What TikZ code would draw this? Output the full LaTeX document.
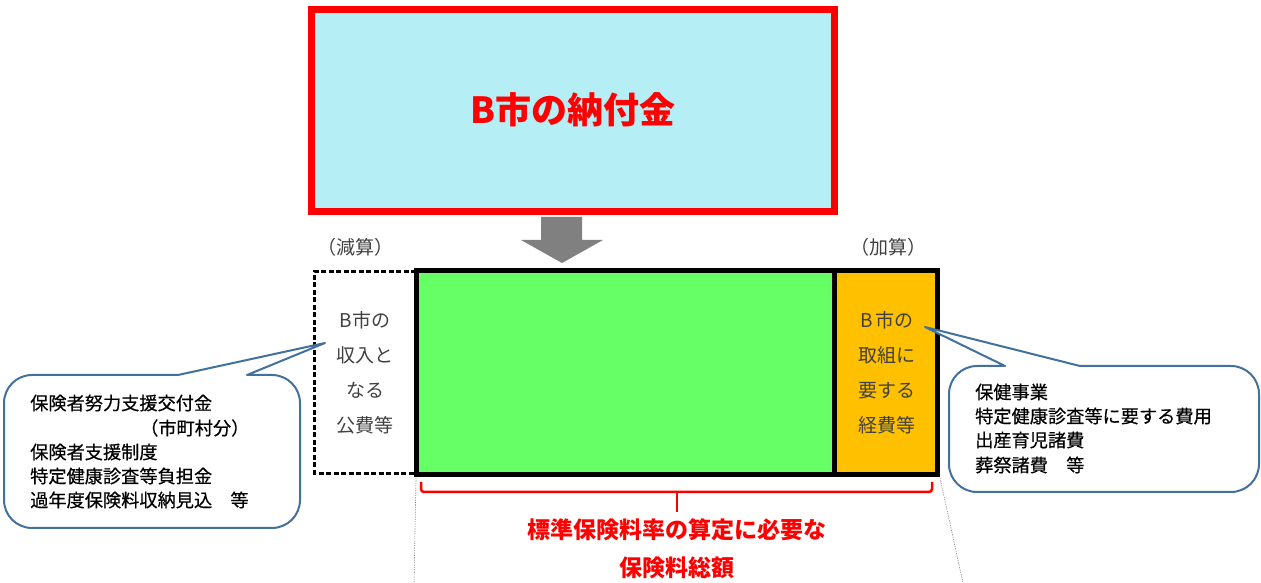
\documentclass[tikz,border=0pt]{standalone}
\usepackage{fontspec}
\setmainfont{Noto Sans CJK JP}
\newfontfamily\callfont[FakeBold=0.4]{Noto Sans CJK JP}
\definecolor{topfill}{HTML}{B6EEF6}
\definecolor{greenfill}{HTML}{66FF66}
\definecolor{orangefill}{HTML}{FFC000}
\definecolor{callblue}{HTML}{41719C}
\definecolor{labgray}{HTML}{404040}
\definecolor{arrowgray}{HTML}{808080}
\definecolor{dotgray}{HTML}{808080}
\begin{document}
\begin{tikzpicture}[x=1pt,y=1pt,
  calloutline/.style={draw=callblue,line width=2pt,fill=white,line join=round},
  boxlabel/.style={text=labgray,font=\fontsize{19}{35}\selectfont,align=center,inner sep=0pt},
  calltext/.style={text=black,font=\callfont\fontsize{18.2}{24}\selectfont,anchor=west,inner sep=0pt},
  redtext/.style={text=red,font=\bfseries\fontsize{23}{38}\selectfont,inner sep=0pt},
  guideline/.style={draw=dotgray,line width=0.6pt,dash pattern=on 1.2pt off 1.2pt}]
\useasboundingbox (0,0) rectangle (1261,583);
% top box
\node (top) [draw=red,line width=7pt,fill=topfill,minimum width=523pt,minimum height=202pt,inner sep=0pt] at (573,472.5) {};
\node (toptext) [text=red,font=\bfseries\fontsize{36}{40}\selectfont] at (573,473) {B市の納付金};
% arrow
\fill[arrowgray] (541,366) -- (582,366) -- (582,343) -- (603,343) -- (562,320) -- (521,343) -- (541,343) -- cycle;
% labels
\node (minus) [text=labgray,font=\fontsize{19}{22}\selectfont] at (355,336) {（減算）};
\node (plus) [text=labgray,font=\fontsize{19}{22}\selectfont] at (888,336) {（加算）};
% dotted guide lines
\coordinate (gl1) at (416,105);
\coordinate (gl2) at (414,0);
\coordinate (gr1) at (940,105);
\coordinate (gr2) at (963,0);
\draw[guideline] (gl1) -- (gl2);
\draw[guideline] (gr1) -- (gr2);
% boxes
\fill[greenfill] (416.5,312.5) rectangle (834,108.5);
\fill[orangefill] (834,312.5) rectangle (937.5,108.5);
\draw[line width=2.5pt,dash pattern=on 5pt off 2.5pt] (416,311.5) -- (314.5,311.5) -- (314.5,109.5) -- (416,109.5);
\draw[line width=5pt] (416.5,312.5) rectangle (937.5,108.5);
\draw[line width=5pt] (834,312.5) -- (834,108.5);
\node (lefttext) [boxlabel] at (365,210.5) {B市の\\収入と\\なる\\公費等};
\node (righttext) [boxlabel] at (887,210.5) {B\,市の\\取組に\\要する\\経費等};
% left callout
\draw[calloutline] (178,208) -- (325,240) -- (247,208) -- (272,208) arc (90:0:28) -- (300,83) arc (0:-90:28) -- (32,55) arc (270:180:28) -- (4,180) arc (180:90:28) -- cycle;
\node (l1) [calltext] at (30,180) {保険者努力支援交付金};
\node (l2) [calltext] at (140,155) {（市町村分）};
\node (l3) [calltext] at (30,131) {保険者支援制度};
\node (l4) [calltext] at (30,107) {特定健康診査等負担金};
\node (l5) [calltext] at (30,83) {過年度保険料収納見込　等};
% right callout
\draw[calloutline] (1080,217) -- (925,256) -- (1005,217) -- (977,217) arc (90:180:28) -- (949,119) arc (180:270:28) -- (1231,91) arc (270:360:28) -- (1259,189) arc (0:90:28) -- cycle;
\node (r1) [calltext] at (975,191) {保健事業};
\node (r2) [calltext] at (975,167) {特定健康診査等に要する費用};
\node (r3) [calltext] at (975,143) {出産育児諸費};
\node (r4) [calltext] at (975,118) {葬祭諸費　等};
% brace
\coordinate (bl) at (421,101);
\coordinate (br) at (932,101);
\coordinate (bm) at (677,71);
\draw[red,line width=2.5pt,rounded corners=3pt] (bl) -- (421,91) -- (932,91) -- (br);
\draw[red,line width=2.5pt] (677,92) -- (bm);
\node (sum1) [redtext] at (677,53) {標準保険料率の算定に必要な};
\node (sum2) [redtext] at (677,15) {保険料総額};
\end{tikzpicture}
\end{document}
